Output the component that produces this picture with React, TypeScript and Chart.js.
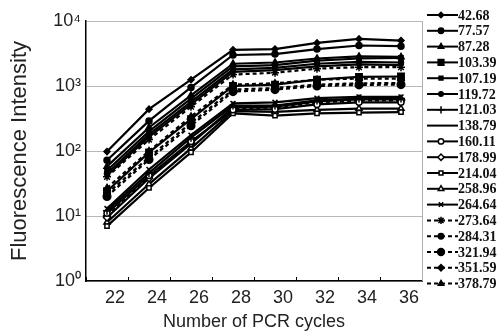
import React, { useEffect, useRef } from 'react';
import { Chart, registerables } from 'chart.js';
import { drawPoint } from 'chart.js/helpers';

Chart.register(...registerables);

const cycles = ['22', '24', '26', '28', '30', '32', '34', '36'];

const seriesLabels = [
  '42.68', '77.57', '87.28', '103.39', '107.19', '119.72', '121.03', '138.79', '160.11',
  '178.99', '214.04', '258.96', '264.64', '273.64', '284.31', '321.94', '351.59', '378.79',
];

const s42_68 = [98, 440, 1250, 3600, 3700, 4600, 5300, 5000];
const s77_57 = [72, 290, 950, 3000, 3100, 3700, 4200, 4100];
const s87_28 = [58, 230, 720, 2200, 2300, 2650, 2850, 2800];
const s103_39 = [24, 95, 310, 1000, 1050, 1250, 1380, 1400];
const s107_19 = [50, 200, 640, 2000, 2100, 2450, 2650, 2700];
const s119_72 = [45, 180, 570, 1800, 1900, 2200, 2350, 2300];
const s121_03 = [12, 46, 160, 500, 500, 600, 640, 640];
const s138_79 = [42, 165, 520, 1650, 1750, 2000, 2150, 2100];
const s160_11 = [11, 42, 140, 430, 440, 520, 560, 560];
const s178_99 = [9.5, 38, 130, 470, 480, 580, 620, 620];
const s214_04 = [7, 27, 95, 380, 350, 380, 390, 395];
const s258_96 = [8, 31, 110, 410, 400, 430, 450, 450];
const s264_64 = [13, 52, 175, 540, 560, 650, 680, 680];
const s273_64 = [40, 150, 480, 1500, 1600, 1850, 1950, 1950];
const s284_31 = [22, 80, 270, 880, 930, 1050, 1100, 1110];
const s321_94 = [20, 74, 245, 820, 880, 1000, 1040, 1050];
const s351_59 = [10, 40, 135, 450, 470, 560, 600, 600];
const s378_79 = [27, 100, 340, 1050, 1100, 1250, 1300, 1300];

const seriesValues = [
  s42_68, s77_57, s87_28, s103_39, s107_19, s119_72, s121_03, s138_79, s160_11,
  s178_99, s214_04, s258_96, s264_64, s273_64, s284_31, s321_94, s351_59, s378_79,
];

const yTickValues = [1, 10, 100, 1000, 10000];
const yTickLabels = ['10⁰', '10¹', '10²', '10³', '10⁴'];

// marker style per series: [pointStyle, radius, filled, dashed]
const markerStyles: [string | false, number, boolean, boolean][] = [
  ['rectRot', 3, true, false],
  ['circle', 3, true, false],
  ['triangle', 3.5, true, false],
  ['rect', 4.5, true, false],
  ['rect', 3, true, false],
  ['circle', 2.5, true, false],
  ['cross', 4, false, false],
  [false, 0, false, false],
  ['circle', 3, false, false],
  ['rectRot', 3.5, false, false],
  ['rect', 3, false, false],
  ['triangle', 3.5, false, false],
  ['crossRot', 3.5, false, false],
  ['star', 4, false, true],
  ['circle', 3, true, true],
  ['circle', 3.8, true, true],
  ['rectRot', 3.5, true, true],
  ['triangle', 3.5, true, true],
];

const legendPlugin = {
  id: 'sideLegend',
  afterDraw(chart: any) {
    const { ctx } = chart;
    ctx.save();
    chart.data.datasets.forEach((ds: any, i: number) => {
      const y = 15 + i * 15.8;
      const x0 = 427;
      const x1 = 458;
      ctx.beginPath();
      ctx.setLineDash(ds.borderDash || []);
      ctx.lineWidth = 2;
      ctx.strokeStyle = '#000';
      ctx.moveTo(x0, y);
      ctx.lineTo(x1, y);
      ctx.stroke();
      ctx.setLineDash([]);
      if (ds.pointRadius > 0) {
        ctx.fillStyle = ds.pointBackgroundColor;
        ctx.strokeStyle = '#000';
        ctx.lineWidth = ds.pointBorderWidth;
        drawPoint(ctx, { pointStyle: ds.pointStyle, radius: ds.pointRadius * 0.9, rotation: 0, borderWidth: ds.pointBorderWidth }, x0 + 14, y);
      }
      ctx.fillStyle = '#111';
      ctx.font = 'bold 14px "Liberation Serif"';
      ctx.textBaseline = 'middle';
      ctx.textAlign = 'left';
      ctx.fillText(ds.label, x1, y + 1);
    });
    ctx.restore();
  },
};

const rightBorderPlugin = {
  id: 'rightBorder',
  afterDatasetsDraw(chart: any) {
    const { ctx, chartArea } = chart;
    ctx.save();
    ctx.strokeStyle = '#b0b0b0';
    ctx.lineWidth = 1;
    ctx.beginPath();
    ctx.moveTo(chartArea.right + 0.5, chartArea.top);
    ctx.lineTo(chartArea.right + 0.5, chartArea.bottom);
    ctx.stroke();
    ctx.restore();
  },
};

export default function App() {
  const ref = useRef<HTMLCanvasElement | null>(null);

  useEffect(() => {
    if (!ref.current) return;
    const datasets = seriesValues.map((vals, i) => {
      const [ps, r, filled, dashed] = markerStyles[i];
      return {
        label: seriesLabels[i],
        data: vals,
        borderColor: '#000',
        backgroundColor: '#000',
        borderWidth: 2.2,
        borderDash: dashed ? [4, 3] : [],
        pointStyle: ps || 'circle',
        pointRadius: ps ? r : 0,
        pointBackgroundColor: filled ? '#000' : '#fff',
        pointBorderColor: '#000',
        pointBorderWidth: 1.5,
        tension: 0,
        fill: false,
      };
    });

    const chart = new Chart(ref.current, {
      type: 'line',
      data: { labels: cycles, datasets },
      plugins: [legendPlugin, rightBorderPlugin],
      options: {
        animation: false,
        responsive: true,
        maintainAspectRatio: false,
        events: [],
        layout: { padding: { left: 0, top: 21, right: 78, bottom: 0 } },
        plugins: {
          legend: { display: false },
          tooltip: { enabled: false },
        },
        scales: {
          x: {
            type: 'category',
            offset: true,
            afterFit: (scale: any) => { scale.height = 54; },
            grid: { drawOnChartArea: false, offset: true, tickLength: -4, color: '#000', lineWidth: 1 },
            border: { color: '#000', width: 1.5 },
            ticks: {
              color: '#222',
              font: { family: '"Liberation Sans", Arial, sans-serif', size: 18 },
              padding: 10,
              labelOffset: 8,
              maxRotation: 0,
              autoSkip: false,
            },
            title: {
              display: true,
              text: 'Number of PCR cycles',
              color: '#222',
              font: { family: '"Liberation Sans", Arial, sans-serif', size: 18 },
              padding: { top: 0, bottom: 2 },
            },
          },
          y: {
            type: 'logarithmic',
            min: 1,
            max: 10000,
            afterFit: (scale: any) => { scale.width = 86; },
            afterBuildTicks: (scale: any) => {
              scale.ticks = yTickValues.map((v) => ({ value: v, major: true }));
            },
            grid: { color: '#b8b8b8', lineWidth: 1, drawTicks: false },
            border: { color: '#000', width: 1.5 },
            ticks: {
              color: '#222',
              font: { family: '"Liberation Sans", Arial, sans-serif', size: 18 },
              padding: 5,
              callback: (v: any) => {
                const idx = yTickValues.indexOf(Number(v));
                return idx >= 0 ? yTickLabels[idx] : '';
              },
            },
            title: {
              display: true,
              text: 'Fluorescence Intensity',
              color: '#222',
              font: { family: '"Liberation Sans", Arial, sans-serif', size: 22 },
              padding: { top: 7, bottom: 0 },
            },
          },
        },
      },
    });
    return () => chart.destroy();
  }, []);

  return (
    <div style={{ position: 'absolute', left: 0, top: 0, width: 500, height: 335, background: '#fff' }}>
      <canvas ref={ref} />
    </div>
  );
}
